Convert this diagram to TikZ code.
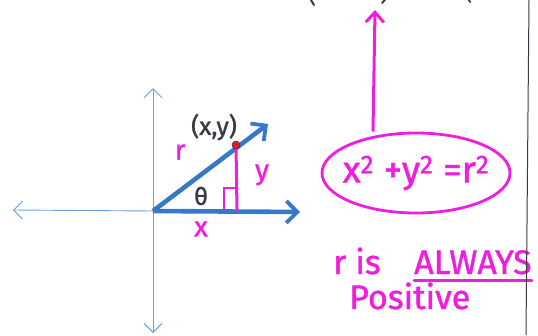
\documentclass[tikz,border=0pt]{standalone}
\usepackage{fontspec}
\setmainfont{Fira Sans}
\newfontfamily\hand[FakeBold=1.2]{Fira Sans}
\usetikzlibrary{arrows.meta,shapes.geometric}
\definecolor{pen}{RGB}{55,120,200}
\definecolor{axisblue}{RGB}{105,160,225}
\definecolor{mag}{RGB}{238,30,222}
\definecolor{ink}{RGB}{60,55,65}
\definecolor{dotred}{RGB}{225,30,40}
\tikzset{
  axisline/.style={draw=axisblue, line width=0.9pt, -{Straight Barb[length=9pt,width=18pt,line width=0.9pt]}},
  vecline/.style={draw=pen, line width=4.6pt, -{Straight Barb[length=11pt,width=22pt,line width=3.8pt]}},
  magline/.style={draw=mag, line width=3pt, line cap=round},
  magtext/.style={text=mag, font=\hand\fontsize{28}{30}\selectfont, inner sep=0pt},
  bigmag/.style={text=mag, font=\hand\fontsize{34}{36}\selectfont, inner sep=0pt, anchor=base west},
  inktext/.style={text=ink, font=\hand\fontsize{25}{27}\selectfont, inner sep=0pt},
}
\begin{document}
\begin{tikzpicture}[x=1pt,y=-1pt]
\useasboundingbox (0,0) rectangle (538,335);
% coordinates
\coordinate (O) at (153,211);
\coordinate (yt) at (153,88);
\coordinate (yb) at (153,333);
\coordinate (xl) at (13,210);
\coordinate (xr) at (300,212);
\coordinate (rt) at (268,124);
\coordinate (P) at (236,145);
\coordinate (F) at (237,211);
\coordinate (top) at (375,10);
% axes
\draw[axisline] (O) -- (yt);
\draw[axisline] (O) -- (yb);
\draw[axisline] (O) -- (xl);
% vectors
\draw[vecline] (O) -- (xr);
\draw[vecline] (O) -- (rt);
% y leg
\draw[magline] (P) -- (F);
\draw[magline, line width=2.6pt] (224,209) -- (224,188) -- (236,188);
\fill[dotred, draw=ink, line width=0.6pt] (P) circle (4);
% labels
\node[inktext] (pt) at (214,127) {(x,y)};
\node[inktext, font=\hand\fontsize{24}{26}\selectfont] (th) at (201,196) {θ};
\node[magtext] (rl) at (180,152) {r};
\node[magtext] (yl) at (262,175) {y};
\node[magtext] (xlab) at (201,229) {x};
% equation ellipse
\node[ellipse, draw=mag, line width=2.8pt, minimum width=188pt, minimum height=80pt, inner sep=0pt] (eq) at (416,173) {};
\node[text=mag, font=\hand\fontsize{37}{40}\selectfont, inner sep=0pt] (eqtext) at (eq.center)
      {x\textsuperscript{2} +y\textsuperscript{2} =r\textsuperscript{2}};
\draw[draw=mag, line width=3pt, -{Straight Barb[length=10pt,width=18pt,line width=3pt]}] (eq.north -| 373,0) -- (top);
% statement
\node[bigmag] (s1) at (333,274) {r is};
\node[bigmag] (s2) at (414,274) {ALWAYS};
\draw[magline, line width=2.6pt] (s2.south west) ++(0,6) coordinate (u1) -- (s2.south east |- u1);
\node[bigmag] (s3) at (349,309) {Positive};
% right rule and cut-off marks at top
\draw[ink, line width=1pt] (529,0) -- (526,335);
\draw[ink, line width=2pt, line cap=round] (311,0) -- (314,5);
\draw[ink, line width=2pt, line cap=round] (385,0) -- (382,3);
\draw[ink, line width=2pt, line cap=round] (469,0) -- (470,2);
\end{tikzpicture}
\end{document}
